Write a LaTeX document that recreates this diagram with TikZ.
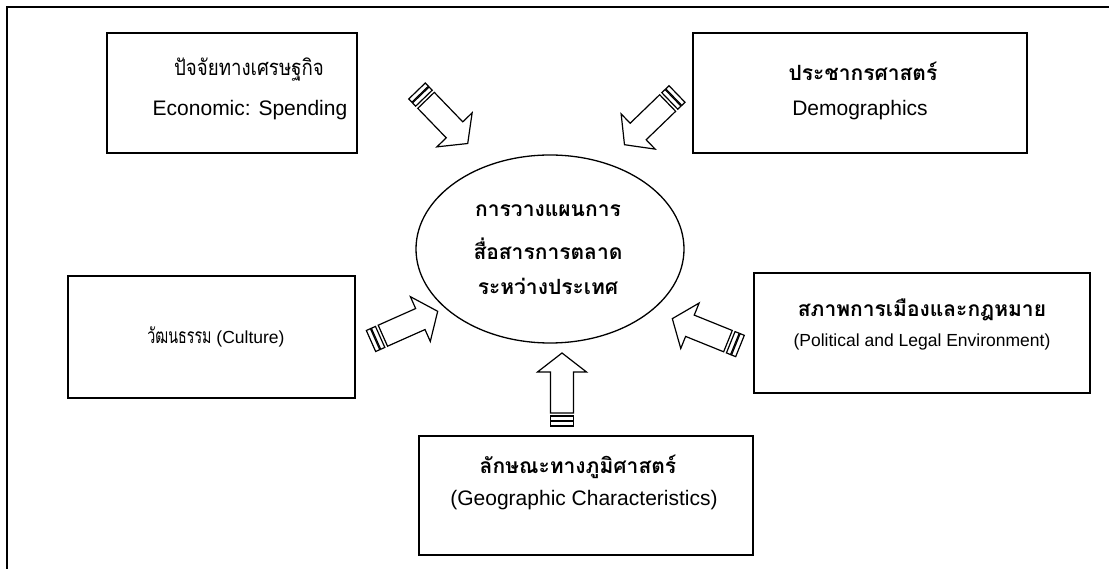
\documentclass[tikz,border=0pt]{standalone}
\usepackage{fontspec}
\setmainfont{Liberation Sans}
\newfontfamily\thai[Script=Thai]{Loma}
\usetikzlibrary{shapes.geometric}

\tikzset{
  factor/.style={draw, line width=1.7pt, inner sep=0pt, minimum height=120pt},
  arrowline/.style={draw, fill=white, line width=1.2pt, line join=miter},
  thaibold/.style={font=\thai\bfseries\fontsize{21}{25}\selectfont},
  thaiplain/.style={font=\thai\fontsize{22}{26}\selectfont},
  engtext/.style={font=\fontsize{21}{25}\selectfont},
  engsmall/.style={font=\fontsize{17.5}{21}\selectfont},
  stripearrow/.pic={
    \draw[arrowline] (0,-11.5) rectangle (4.5,11.5);
    \draw[arrowline] (5.5,-11.5) rectangle (10,11.5);
    \draw[arrowline] (13,-11.5) -- (54,-11.5) -- (54,-24.5) -- (73,0)
      -- (54,24.5) -- (54,11.5) -- (13,11.5) -- cycle;
  }
}

\begin{document}
\begin{tikzpicture}[x=1pt, y=1pt]
            \useasboundingbox (0,0) rectangle (1109,568);
            \draw[line width=2.5pt] (7,-20) -- (7,561) -- (1130,561);

            \node[factor, minimum width=250pt] (econ) at (232,475) {};
            \node[factor, minimum width=334pt] (demo) at (860,475) {};
            \node[factor, minimum width=287pt, minimum height=122pt] (cult) at (211.5,231) {};
            \node[factor, minimum width=336pt] (poli) at (922,235) {};
            \node[factor, minimum width=334pt, minimum height=119pt] (geo) at (586,72.5) {};
            \node[ellipse, draw, line width=1.3pt, inner sep=0pt,
                  minimum width=268pt, minimum height=188pt] (plan) at (550,319) {};

            \node[thaiplain] (econ-th) at (249,498) {\scalebox{0.85}[1]{ปัจจัยทางเศรษฐกิจ}};
            \node[engtext] (econ-en) at (250,458) {Economic: Spending};
            \node[thaibold] (demo-th) at (863,497) {ประชากรศาสตร์};
            \node[engtext] (demo-en) at (860,458) {Demographics};
            \node[engsmall] (cult-txt) at (216,231)
                  {{\thai\fontsize{21}{25}\selectfont\scalebox{0.68}[1]{วัฒนธรรม}} (Culture)};
            \node[thaibold] (poli-th) at (922,258) {สภาพการเมืองและกฎหมาย};
            \node[engsmall] (poli-en) at (922,226) {(Political and Legal Environment)};
            \node[thaibold] (geo-th) at (578,101) {ลักษณะทางภูมิศาสตร์};
            \node[engtext] (geo-en) at (584,68) {(Geographic Characteristics)};

            \node[thaibold] (plan-1) at (548,357) {การวางแผนการ};
            \node[thaibold] (plan-2) at (548,319) {สื่อสารการตลาด};
            \node[thaibold] (plan-3) at (548,282) {ระหว่างประเทศ};

            \coordinate (a1) at (417,477);
            \coordinate (a2) at (677,474);
            \coordinate (a3) at (371,227);
            \coordinate (a4) at (740,222);
            \coordinate (a5) at (562,142);

            \pic[rotate=-46] at (a1) {stripearrow};
            \pic[rotate=-136] at (a2) {stripearrow};
            \pic[rotate=24] at (a3) {stripearrow};
            \pic[rotate=158] at (a4) {stripearrow};
            \pic[rotate=90] at (a5) {stripearrow};
\end{tikzpicture}
\end{document}
